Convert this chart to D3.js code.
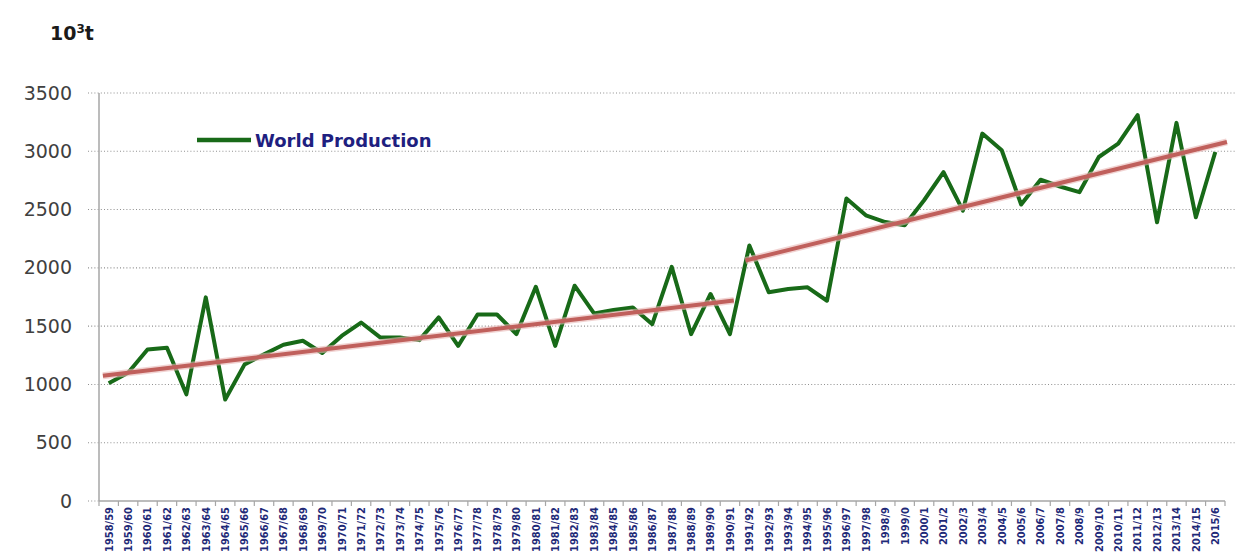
<!DOCTYPE html>
<html lang="en">
<head>
  <meta charset="UTF-8">
  <title>World Production</title>
  <style>
    body { margin: 0; background: #fff; }
    #chart svg { display: block; }
  </style>
</head>
<body>
  <div id="chart"></div>

  <script src="https://d3js.org/d3.v7.min.js"></script>
  <script>
    // Crop years (as printed on the axis)
    const categories = [
      '1958/59', '1959/60', '1960/61', '1961/62', '1962/63', '1963/64', '1964/65', '1965/66',
      '1966/67', '1967/68', '1968/69', '1969/70', '1970/71', '1971/72', '1972/73', '1973/74',
      '1974/75', '1975/76', '1976/77', '1977/78', '1978/79', '1979/80', '1980/81', '1981/82',
      '1982/83', '1983/84', '1984/85', '1985/86', '1986/87', '1987/88', '1988/89', '1989/90',
      '1990/91', '1991/92', '1992/93', '1993/94', '1994/95', '1995/96', '1996/97', '1997/98',
      '1998/9', '1999/0', '2000/1', '2001/2', '2002/3', '2003/4', '2004/5', '2005/6',
      '2006/7', '2007/8', '2008/9', '2009/10', '2010/11', '2011/12', '2012/13', '2013/14',
      '2014/15', '2015/6'
    ];

    // World production, 10^3 t
    const production = [
      1010, 1100, 1300, 1315, 915, 1747, 870, 1172, 1258, 1340,
      1375, 1270, 1416, 1531, 1402, 1402, 1380, 1575, 1330, 1600,
      1600, 1431, 1838, 1330, 1847, 1609, 1638, 1660, 1517, 2008,
      1431, 1776, 1431, 2192, 1790, 1819, 1833, 1718, 2595, 2451,
      2393, 2365, 2580, 2822, 2491, 3152, 3009, 2543, 2756, 2698,
      2649, 2951, 3066, 3310, 2391, 3244, 2434, 2994
    ];

    // Trend segments: [category index, value]
    const trendEarly = [[-0.3, 1075], [32.2, 1720]];
    const trendLate = [[32.8, 2063], [57.6, 3080]];

    const yTicks = [0, 500, 1000, 1500, 2000, 2500, 3000, 3500];

    const width = 1237;
    const height = 557;
    const margin = { top: 93, right: 12, bottom: 56, left: 99 };
    const plotRight = 1225;

    const svg = d3.select('#chart')
      .append('svg')
      .attr('width', width)
      .attr('height', height);

    const x = d3.scaleBand()
      .domain(categories)
      .range([margin.left, plotRight])
      .padding(0);

    // same axis as a continuous index scale, for the trend lines
    const xi = d3.scaleLinear()
      .domain([-0.5, categories.length - 0.5])
      .range([margin.left, plotRight]);

    const y = d3.scaleLinear()
      .domain([0, 3500])
      .range([height - margin.bottom, margin.top]);

    // Dotted gridlines (and short ticks left of the axis)
    svg.append('g')
      .selectAll('line')
      .data(yTicks)
      .join('line')
      .attr('x1', margin.left - 11)
      .attr('x2', (d) => (d === 0 ? margin.left : width - 2))
      .attr('y1', (d) => y(d))
      .attr('y2', (d) => y(d))
      .attr('stroke', '#909090')
      .attr('stroke-width', 1.1)
      .attr('stroke-dasharray', '1,2.2');

    // Y axis labels
    const yAxis = svg.append('g')
      .attr('transform', `translate(${margin.left}, 0)`)
      .call(d3.axisLeft(y).tickValues(yTicks).tickFormat(d3.format('d')).tickSize(0).tickPadding(27));
    yAxis.select('.domain').remove();
    yAxis.selectAll('text')
      .attr('font-family', '"DejaVu Sans", sans-serif')
      .attr('font-size', 19)
      .attr('fill', '#404040');

    // Y axis line
    svg.append('line')
      .attr('x1', margin.left).attr('x2', margin.left)
      .attr('y1', y(3500)).attr('y2', y(0))
      .attr('stroke', '#a6a6a6')
      .attr('stroke-width', 1.5);

    // X axis line with ticks at category boundaries
    svg.append('line')
      .attr('x1', margin.left).attr('x2', plotRight)
      .attr('y1', y(0)).attr('y2', y(0))
      .attr('stroke', '#a6a6a6')
      .attr('stroke-width', 1.5);

    const bounds = categories.map((c) => x(c)).concat([plotRight]);
    svg.append('g')
      .selectAll('line')
      .data(bounds)
      .join('line')
      .attr('x1', (d) => d).attr('x2', (d) => d)
      .attr('y1', y(0)).attr('y2', y(0) + 5)
      .attr('stroke', '#a6a6a6')
      .attr('stroke-width', 1.2);

    // Category labels, rotated
    const xAxis = svg.append('g')
      .attr('transform', `translate(0, ${y(0)})`)
      .call(d3.axisBottom(x).tickSize(0).tickPadding(0));
    xAxis.select('.domain').remove();
    xAxis.selectAll('text')
      .attr('transform', 'rotate(-90)')
      .attr('text-anchor', 'end')
      .attr('dy', '0.35em')
      .attr('x', -6)
      .attr('y', 0)
      .attr('font-family', '"DejaVu Sans Condensed", "DejaVu Sans", sans-serif')
      .attr('font-weight', 'bold')
      .attr('font-size', 11)
      .attr('fill', '#1f2a78');

    // Production line
    const line = d3.line()
      .x((d, i) => x(categories[i]) + x.bandwidth() / 2)
      .y((d) => y(d));

    svg.append('path')
      .datum(production)
      .attr('fill', 'none')
      .attr('stroke', '#186a18')
      .attr('stroke-width', 4)
      .attr('stroke-linejoin', 'round')
      .attr('d', line);

    // Trend lines
    const trendLine = d3.line()
      .x((d) => xi(d[0]))
      .y((d) => y(d[1]));

    [trendEarly, trendLate].forEach((seg) => {
      svg.append('path')
        .datum(seg)
        .attr('fill', 'none')
        .attr('stroke', '#e7b6b4')
        .attr('stroke-opacity', 0.6)
        .attr('stroke-width', 7)
        .attr('d', trendLine);
      svg.append('path')
        .datum(seg)
        .attr('fill', 'none')
        .attr('stroke', '#c0605c')
        .attr('stroke-width', 4)
        .attr('d', trendLine);
    });

    // Legend
    svg.append('line')
      .attr('x1', 197).attr('x2', 251)
      .attr('y1', 140).attr('y2', 140)
      .attr('stroke', '#186a18')
      .attr('stroke-width', 4.5);
    svg.append('text')
      .attr('x', 255)
      .attr('y', 147)
      .attr('font-family', '"DejaVu Sans", sans-serif')
      .attr('font-weight', 'bold')
      .attr('font-size', 18)
      .attr('fill', '#1f1f80')
      .text('World Production');

    // Unit label
    const unit = svg.append('text')
      .attr('x', 50)
      .attr('y', 40)
      .attr('font-family', '"DejaVu Sans", sans-serif')
      .attr('font-weight', 'bold')
      .attr('font-size', 19)
      .attr('fill', '#1a1a1a');
    unit.append('tspan').text('10');
    unit.append('tspan').attr('font-size', 12).attr('dy', -7).text('3');
    unit.append('tspan').attr('dy', 7).text('t');
  </script>
</body>
</html>
